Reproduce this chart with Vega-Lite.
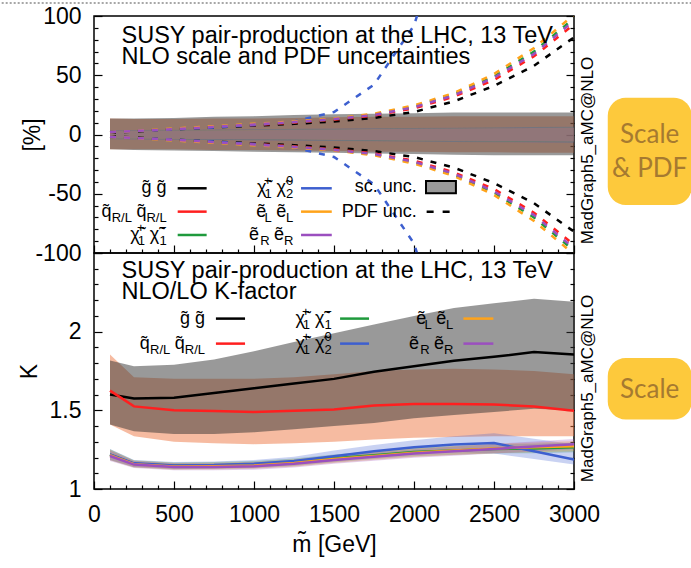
{
  "$schema": "https://vega.github.io/schema/vega-lite/v6.json",
  "background": "white",
  "padding": {"left": 0, "top": 1, "right": 0, "bottom": 4},
  "config": {
    "font": "Liberation Sans",
    "view": {"stroke": "#000000", "strokeWidth": 1.5},
    "axis": {
      "grid": false, "domain": false,
      "tickColor": "#000000", "tickWidth": 1.2,
      "labelFont": "Liberation Sans", "labelFontSize": 23, "labelColor": "#000000",
      "labelFlush": false, "labelOverlap": false,
      "titleFont": "Liberation Sans", "titleFontSize": 23, "titleFontWeight": "normal", "titleColor": "#000000"
    },
    "text": {"font": "Liberation Sans", "color": "#000000"}
  },
  "datasets": {
    "pct": [
      {"m":100,"proc":"gg","sc_lo":-12.5,"sc_hi":13.5,"pdf_lo":-1.5,"pdf_hi":1.5},
      {"m":250,"proc":"gg","sc_lo":-13,"sc_hi":13.5,"pdf_lo":-2.5,"pdf_hi":2.5},
      {"m":500,"proc":"gg","sc_lo":-13.5,"sc_hi":14,"pdf_lo":-4.5,"pdf_hi":4.5},
      {"m":750,"proc":"gg","sc_lo":-14,"sc_hi":15,"pdf_lo":-6,"pdf_hi":6},
      {"m":1000,"proc":"gg","sc_lo":-14.5,"sc_hi":15.5,"pdf_lo":-7.5,"pdf_hi":7.5},
      {"m":1250,"proc":"gg","sc_lo":-15,"sc_hi":16.5,"pdf_lo":-9,"pdf_hi":9},
      {"m":1500,"proc":"gg","sc_lo":-15.5,"sc_hi":17,"pdf_lo":-11,"pdf_hi":11},
      {"m":1750,"proc":"gg","sc_lo":-16,"sc_hi":17.5,"pdf_lo":-14,"pdf_hi":14},
      {"m":2000,"proc":"gg","sc_lo":-16.5,"sc_hi":18,"pdf_lo":-19,"pdf_hi":19},
      {"m":2250,"proc":"gg","sc_lo":-17,"sc_hi":18.5,"pdf_lo":-28,"pdf_hi":28},
      {"m":2500,"proc":"gg","sc_lo":-17.5,"sc_hi":18.5,"pdf_lo":-41,"pdf_hi":41},
      {"m":2750,"proc":"gg","sc_lo":-17.5,"sc_hi":18.5,"pdf_lo":-58,"pdf_hi":58},
      {"m":3000,"proc":"gg","sc_lo":-17.5,"sc_hi":18.5,"pdf_lo":-82,"pdf_hi":82},
      {"m":100,"proc":"qq","sc_lo":-12.5,"sc_hi":13.5,"pdf_lo":-2,"pdf_hi":2},
      {"m":250,"proc":"qq","sc_lo":-12.5,"sc_hi":13,"pdf_lo":-3,"pdf_hi":3},
      {"m":500,"proc":"qq","sc_lo":-12.5,"sc_hi":13,"pdf_lo":-4.5,"pdf_hi":4.5},
      {"m":750,"proc":"qq","sc_lo":-13,"sc_hi":13.5,"pdf_lo":-6.5,"pdf_hi":6.5},
      {"m":1000,"proc":"qq","sc_lo":-13,"sc_hi":13.5,"pdf_lo":-8,"pdf_hi":8},
      {"m":1250,"proc":"qq","sc_lo":-13.5,"sc_hi":14,"pdf_lo":-10,"pdf_hi":10},
      {"m":1500,"proc":"qq","sc_lo":-14,"sc_hi":14.5,"pdf_lo":-12.5,"pdf_hi":12.5},
      {"m":1750,"proc":"qq","sc_lo":-14.5,"sc_hi":15,"pdf_lo":-16,"pdf_hi":16},
      {"m":2000,"proc":"qq","sc_lo":-14.5,"sc_hi":15,"pdf_lo":-22,"pdf_hi":22},
      {"m":2250,"proc":"qq","sc_lo":-15,"sc_hi":15.5,"pdf_lo":-32,"pdf_hi":32},
      {"m":2500,"proc":"qq","sc_lo":-15,"sc_hi":15.5,"pdf_lo":-46,"pdf_hi":46},
      {"m":2750,"proc":"qq","sc_lo":-15.5,"sc_hi":15.5,"pdf_lo":-66,"pdf_hi":66},
      {"m":3000,"proc":"qq","sc_lo":-15.5,"sc_hi":15.5,"pdf_lo":-93,"pdf_hi":93},
      {"m":100,"proc":"c1c1","sc_lo":-3.5,"sc_hi":3,"pdf_lo":-2,"pdf_hi":2},
      {"m":250,"proc":"c1c1","sc_lo":-3.7,"sc_hi":3.2,"pdf_lo":-3,"pdf_hi":3},
      {"m":500,"proc":"c1c1","sc_lo":-4,"sc_hi":3.5,"pdf_lo":-4.5,"pdf_hi":4.5},
      {"m":750,"proc":"c1c1","sc_lo":-4.3,"sc_hi":3.8,"pdf_lo":-6.5,"pdf_hi":6.5},
      {"m":1000,"proc":"c1c1","sc_lo":-4.5,"sc_hi":4,"pdf_lo":-8.5,"pdf_hi":8.5},
      {"m":1250,"proc":"c1c1","sc_lo":-4.8,"sc_hi":4.3,"pdf_lo":-10.5,"pdf_hi":10.5},
      {"m":1500,"proc":"c1c1","sc_lo":-5.1,"sc_hi":4.6,"pdf_lo":-13,"pdf_hi":13},
      {"m":1750,"proc":"c1c1","sc_lo":-5.4,"sc_hi":4.9,"pdf_lo":-17,"pdf_hi":17},
      {"m":2000,"proc":"c1c1","sc_lo":-5.7,"sc_hi":5.2,"pdf_lo":-23.5,"pdf_hi":23.5},
      {"m":2250,"proc":"c1c1","sc_lo":-6,"sc_hi":5.5,"pdf_lo":-34,"pdf_hi":34},
      {"m":2500,"proc":"c1c1","sc_lo":-6.2,"sc_hi":5.7,"pdf_lo":-49,"pdf_hi":49},
      {"m":2750,"proc":"c1c1","sc_lo":-6.4,"sc_hi":5.9,"pdf_lo":-70,"pdf_hi":70},
      {"m":3000,"proc":"c1c1","sc_lo":-6.5,"sc_hi":6,"pdf_lo":-98,"pdf_hi":98},
      {"m":100,"proc":"c1n2","sc_lo":-4,"sc_hi":3.5,"pdf_lo":-2,"pdf_hi":2},
      {"m":250,"proc":"c1n2","sc_lo":-4.2,"sc_hi":3.7,"pdf_lo":-3,"pdf_hi":3},
      {"m":500,"proc":"c1n2","sc_lo":-4.5,"sc_hi":4,"pdf_lo":-4.5,"pdf_hi":4.5},
      {"m":750,"proc":"c1n2","sc_lo":-4.7,"sc_hi":4.2,"pdf_lo":-6,"pdf_hi":6},
      {"m":1000,"proc":"c1n2","sc_lo":-5,"sc_hi":4.5,"pdf_lo":-8,"pdf_hi":8},
      {"m":1250,"proc":"c1n2","sc_lo":-5.3,"sc_hi":4.8,"pdf_lo":-11,"pdf_hi":11},
      {"m":1500,"proc":"c1n2","sc_lo":-5.5,"sc_hi":5,"pdf_lo":-19,"pdf_hi":19},
      {"m":1750,"proc":"c1n2","sc_lo":-5.8,"sc_hi":5.3,"pdf_lo":-42,"pdf_hi":42},
      {"m":2000,"proc":"c1n2","sc_lo":-6,"sc_hi":5.5,"pdf_lo":-92,"pdf_hi":92},
      {"m":2250,"proc":"c1n2","sc_lo":-6.3,"sc_hi":5.8,"pdf_lo":-200,"pdf_hi":200},
      {"m":2500,"proc":"c1n2","sc_lo":-6.5,"sc_hi":6,"pdf_lo":null,"pdf_hi":null},
      {"m":2750,"proc":"c1n2","sc_lo":-6.8,"sc_hi":6.3,"pdf_lo":null,"pdf_hi":null},
      {"m":3000,"proc":"c1n2","sc_lo":-7,"sc_hi":6.5,"pdf_lo":null,"pdf_hi":null},
      {"m":100,"proc":"eLeL","sc_lo":-3.3,"sc_hi":3,"pdf_lo":-2,"pdf_hi":2},
      {"m":250,"proc":"eLeL","sc_lo":-3.5,"sc_hi":3.2,"pdf_lo":-3,"pdf_hi":3},
      {"m":500,"proc":"eLeL","sc_lo":-3.7,"sc_hi":3.4,"pdf_lo":-5,"pdf_hi":5},
      {"m":750,"proc":"eLeL","sc_lo":-3.9,"sc_hi":3.6,"pdf_lo":-7,"pdf_hi":7},
      {"m":1000,"proc":"eLeL","sc_lo":-4.1,"sc_hi":3.8,"pdf_lo":-9,"pdf_hi":9},
      {"m":1250,"proc":"eLeL","sc_lo":-4.3,"sc_hi":4,"pdf_lo":-11,"pdf_hi":11},
      {"m":1500,"proc":"eLeL","sc_lo":-4.6,"sc_hi":4.3,"pdf_lo":-13.5,"pdf_hi":13.5},
      {"m":1750,"proc":"eLeL","sc_lo":-4.9,"sc_hi":4.6,"pdf_lo":-17.5,"pdf_hi":17.5},
      {"m":2000,"proc":"eLeL","sc_lo":-5.2,"sc_hi":4.9,"pdf_lo":-24.5,"pdf_hi":24.5},
      {"m":2250,"proc":"eLeL","sc_lo":-5.4,"sc_hi":5.1,"pdf_lo":-35,"pdf_hi":35},
      {"m":2500,"proc":"eLeL","sc_lo":-5.6,"sc_hi":5.3,"pdf_lo":-51,"pdf_hi":51},
      {"m":2750,"proc":"eLeL","sc_lo":-5.8,"sc_hi":5.5,"pdf_lo":-73,"pdf_hi":73},
      {"m":3000,"proc":"eLeL","sc_lo":-6,"sc_hi":5.6,"pdf_lo":-101,"pdf_hi":101},
      {"m":100,"proc":"eReR","sc_lo":-3.2,"sc_hi":2.8,"pdf_lo":-2,"pdf_hi":2},
      {"m":250,"proc":"eReR","sc_lo":-3.4,"sc_hi":3,"pdf_lo":-3,"pdf_hi":3},
      {"m":500,"proc":"eReR","sc_lo":-3.6,"sc_hi":3.2,"pdf_lo":-4.5,"pdf_hi":4.5},
      {"m":750,"proc":"eReR","sc_lo":-3.8,"sc_hi":3.4,"pdf_lo":-6.5,"pdf_hi":6.5},
      {"m":1000,"proc":"eReR","sc_lo":-4,"sc_hi":3.6,"pdf_lo":-8.5,"pdf_hi":8.5},
      {"m":1250,"proc":"eReR","sc_lo":-4.2,"sc_hi":3.9,"pdf_lo":-10.5,"pdf_hi":10.5},
      {"m":1500,"proc":"eReR","sc_lo":-4.5,"sc_hi":4.2,"pdf_lo":-13,"pdf_hi":13},
      {"m":1750,"proc":"eReR","sc_lo":-4.8,"sc_hi":4.5,"pdf_lo":-16.5,"pdf_hi":16.5},
      {"m":2000,"proc":"eReR","sc_lo":-5.1,"sc_hi":4.8,"pdf_lo":-23,"pdf_hi":23},
      {"m":2250,"proc":"eReR","sc_lo":-5.3,"sc_hi":5,"pdf_lo":-33,"pdf_hi":33},
      {"m":2500,"proc":"eReR","sc_lo":-5.5,"sc_hi":5.2,"pdf_lo":-48,"pdf_hi":48},
      {"m":2750,"proc":"eReR","sc_lo":-5.7,"sc_hi":5.4,"pdf_lo":-68,"pdf_hi":68},
      {"m":3000,"proc":"eReR","sc_lo":-5.9,"sc_hi":5.5,"pdf_lo":-96,"pdf_hi":96}
    ],
    "kf": [
      {"m":100,"proc":"gg","k":1.6,"lo":1.41,"hi":1.816},
      {"m":250,"proc":"gg","k":1.575,"lo":1.367,"hi":1.78},
      {"m":500,"proc":"gg","k":1.58,"lo":1.35,"hi":1.79},
      {"m":750,"proc":"gg","k":1.61,"lo":1.35,"hi":1.823},
      {"m":1000,"proc":"gg","k":1.64,"lo":1.36,"hi":1.875},
      {"m":1250,"proc":"gg","k":1.67,"lo":1.38,"hi":1.935},
      {"m":1500,"proc":"gg","k":1.7,"lo":1.4,"hi":1.99},
      {"m":1750,"proc":"gg","k":1.745,"lo":1.42,"hi":2.045},
      {"m":2000,"proc":"gg","k":1.78,"lo":1.45,"hi":2.1},
      {"m":2250,"proc":"gg","k":1.815,"lo":1.47,"hi":2.15},
      {"m":2500,"proc":"gg","k":1.84,"lo":1.49,"hi":2.18},
      {"m":2750,"proc":"gg","k":1.87,"lo":1.51,"hi":2.21},
      {"m":3000,"proc":"gg","k":1.855,"lo":1.5,"hi":2.19},
      {"m":100,"proc":"qq","k":1.625,"lo":1.41,"hi":1.855},
      {"m":250,"proc":"qq","k":1.525,"lo":1.335,"hi":1.71},
      {"m":500,"proc":"qq","k":1.5,"lo":1.3,"hi":1.7},
      {"m":750,"proc":"qq","k":1.495,"lo":1.29,"hi":1.7},
      {"m":1000,"proc":"qq","k":1.49,"lo":1.285,"hi":1.7},
      {"m":1250,"proc":"qq","k":1.497,"lo":1.29,"hi":1.71},
      {"m":1500,"proc":"qq","k":1.505,"lo":1.3,"hi":1.73},
      {"m":1750,"proc":"qq","k":1.53,"lo":1.315,"hi":1.75},
      {"m":2000,"proc":"qq","k":1.54,"lo":1.325,"hi":1.76},
      {"m":2250,"proc":"qq","k":1.54,"lo":1.33,"hi":1.765},
      {"m":2500,"proc":"qq","k":1.537,"lo":1.335,"hi":1.76},
      {"m":2750,"proc":"qq","k":1.525,"lo":1.335,"hi":1.75},
      {"m":3000,"proc":"qq","k":1.498,"lo":1.335,"hi":1.73},
      {"m":100,"proc":"c1c1","k":1.218,"lo":1.185,"hi":1.252},
      {"m":250,"proc":"c1c1","k":1.16,"lo":1.138,"hi":1.182},
      {"m":500,"proc":"c1c1","k":1.147,"lo":1.125,"hi":1.168},
      {"m":750,"proc":"c1c1","k":1.15,"lo":1.128,"hi":1.172},
      {"m":1000,"proc":"c1c1","k":1.155,"lo":1.132,"hi":1.178},
      {"m":1250,"proc":"c1c1","k":1.17,"lo":1.146,"hi":1.194},
      {"m":1500,"proc":"c1c1","k":1.195,"lo":1.17,"hi":1.22},
      {"m":1750,"proc":"c1c1","k":1.215,"lo":1.19,"hi":1.24},
      {"m":2000,"proc":"c1c1","k":1.235,"lo":1.208,"hi":1.262},
      {"m":2250,"proc":"c1c1","k":1.245,"lo":1.217,"hi":1.273},
      {"m":2500,"proc":"c1c1","k":1.255,"lo":1.226,"hi":1.284},
      {"m":2750,"proc":"c1c1","k":1.258,"lo":1.228,"hi":1.288},
      {"m":3000,"proc":"c1c1","k":1.265,"lo":1.234,"hi":1.296},
      {"m":100,"proc":"c1n2","k":1.22,"lo":1.185,"hi":1.255},
      {"m":250,"proc":"c1n2","k":1.163,"lo":1.14,"hi":1.185},
      {"m":500,"proc":"c1n2","k":1.15,"lo":1.128,"hi":1.172},
      {"m":750,"proc":"c1n2","k":1.152,"lo":1.13,"hi":1.175},
      {"m":1000,"proc":"c1n2","k":1.16,"lo":1.137,"hi":1.185},
      {"m":1250,"proc":"c1n2","k":1.178,"lo":1.155,"hi":1.205},
      {"m":1500,"proc":"c1n2","k":1.208,"lo":1.178,"hi":1.245},
      {"m":1750,"proc":"c1n2","k":1.24,"lo":1.205,"hi":1.28},
      {"m":2000,"proc":"c1n2","k":1.265,"lo":1.225,"hi":1.31},
      {"m":2250,"proc":"c1n2","k":1.283,"lo":1.235,"hi":1.335},
      {"m":2500,"proc":"c1n2","k":1.292,"lo":1.225,"hi":1.355},
      {"m":2750,"proc":"c1n2","k":1.24,"lo":1.19,"hi":1.32},
      {"m":3000,"proc":"c1n2","k":1.187,"lo":1.155,"hi":1.285},
      {"m":100,"proc":"eLeL","k":1.215,"lo":1.182,"hi":1.25},
      {"m":250,"proc":"eLeL","k":1.158,"lo":1.136,"hi":1.18},
      {"m":500,"proc":"eLeL","k":1.143,"lo":1.122,"hi":1.165},
      {"m":750,"proc":"eLeL","k":1.145,"lo":1.124,"hi":1.167},
      {"m":1000,"proc":"eLeL","k":1.15,"lo":1.128,"hi":1.173},
      {"m":1250,"proc":"eLeL","k":1.165,"lo":1.142,"hi":1.189},
      {"m":1500,"proc":"eLeL","k":1.19,"lo":1.165,"hi":1.215},
      {"m":1750,"proc":"eLeL","k":1.21,"lo":1.184,"hi":1.237},
      {"m":2000,"proc":"eLeL","k":1.23,"lo":1.203,"hi":1.258},
      {"m":2250,"proc":"eLeL","k":1.245,"lo":1.216,"hi":1.274},
      {"m":2500,"proc":"eLeL","k":1.258,"lo":1.228,"hi":1.288},
      {"m":2750,"proc":"eLeL","k":1.265,"lo":1.234,"hi":1.296},
      {"m":3000,"proc":"eLeL","k":1.272,"lo":1.24,"hi":1.305},
      {"m":100,"proc":"eReR","k":1.21,"lo":1.178,"hi":1.245},
      {"m":250,"proc":"eReR","k":1.155,"lo":1.133,"hi":1.178},
      {"m":500,"proc":"eReR","k":1.14,"lo":1.119,"hi":1.162},
      {"m":750,"proc":"eReR","k":1.14,"lo":1.119,"hi":1.162},
      {"m":1000,"proc":"eReR","k":1.145,"lo":1.123,"hi":1.168},
      {"m":1250,"proc":"eReR","k":1.16,"lo":1.137,"hi":1.184},
      {"m":1500,"proc":"eReR","k":1.185,"lo":1.16,"hi":1.21},
      {"m":1750,"proc":"eReR","k":1.205,"lo":1.179,"hi":1.232},
      {"m":2000,"proc":"eReR","k":1.225,"lo":1.198,"hi":1.253},
      {"m":2250,"proc":"eReR","k":1.24,"lo":1.211,"hi":1.27},
      {"m":2500,"proc":"eReR","k":1.255,"lo":1.225,"hi":1.286},
      {"m":2750,"proc":"eReR","k":1.27,"lo":1.238,"hi":1.302},
      {"m":3000,"proc":"eReR","k":1.285,"lo":1.252,"hi":1.318}
    ]
  },
  "spacing": 0,
  "bounds": "flush",
  "vconcat": [
    {
      "width": 480,
      "height": 237,
      "data": {"name": "pct"},
      "resolve": {"axis": {"x": "independent", "y": "independent"}},
      "layer": [
        {
          "transform": [{"filter": "datum.proc === 'qq'"}],
          "mark": {"type": "area", "color": "#ee7744", "fillOpacity": 0.5, "clip": true},
          "encoding": {
            "x": {"field": "m", "type": "quantitative", "scale": {"domain": [0, 3000], "nice": false},
              "axis": {"orient": "bottom", "labels": false, "title": null,
                "values": [0,100,200,300,400,500,600,700,800,900,1000,1100,1200,1300,1400,1500,1600,1700,1800,1900,2000,2100,2200,2300,2400,2500,2600,2700,2800,2900,3000],
                "tickSize": {"condition": {"test": "datum.value % 500 === 0", "value": -8}, "value": -4}}},
            "y": {"field": "sc_lo", "type": "quantitative", "scale": {"domain": [-100, 100], "nice": false},
              "axis": {"orient": "left", "title": "[%]", "titleX": -62, "titleBaseline": "middle",
                "values": [-100,-90,-80,-70,-60,-50,-40,-30,-20,-10,0,10,20,30,40,50,60,70,80,90,100],
                "labelExpr": "datum.value % 50 === 0 ? '' + datum.value : ''",
                "labelPadding": 21,
                "tickSize": {"condition": {"test": "datum.value % 50 === 0", "value": -8}, "value": -4}}},
            "y2": {"field": "sc_hi"}
          }
        },
        {
          "transform": [{"filter": "datum.proc === 'gg'"}],
          "mark": {"type": "area", "color": "#333333", "fillOpacity": 0.5, "clip": true},
          "encoding": {
            "x": {"field": "m", "type": "quantitative", "scale": {"domain": [0, 3000], "nice": false}, "axis": null},
            "y": {"field": "sc_lo", "type": "quantitative", "scale": {"domain": [-100, 100], "nice": false},
              "axis": {"orient": "right", "labels": false, "title": "MadGraph5_aMC@NLO", "titleAngle": 270,
                "titleBaseline": "middle", "titleX": 13, "titleY": 134, "titleFontSize": 17,
                "values": [-100,-90,-80,-70,-60,-50,-40,-30,-20,-10,0,10,20,30,40,50,60,70,80,90,100],
                "tickSize": {"condition": {"test": "datum.value % 50 === 0", "value": -8}, "value": -4}}},
            "y2": {"field": "sc_hi"}
          }
        },
        {
          "transform": [{"filter": "indexof(['c1c1','c1n2','eLeL','eReR'], datum.proc) >= 0"}],
          "mark": {"type": "area", "fillOpacity": 0.25, "clip": true},
          "encoding": {
            "x": {"field": "m", "type": "quantitative", "scale": {"domain": [0, 3000], "nice": false}, "axis": null},
            "y": {"field": "sc_lo", "type": "quantitative", "scale": {"domain": [-100, 100], "nice": false}, "axis": null},
            "y2": {"field": "sc_hi"},
            "color": {"field": "proc", "type": "nominal", "legend": null,
              "scale": {"domain": ["gg","qq","c1c1","c1n2","eLeL","eReR"], "range": ["#000000","#ff1f1f","#1f9a3c","#3d5fcf","#ffa31a","#9b4fbf"]}}
          }
        },
        {
          "mark": {"type": "line", "strokeWidth": 2.5, "strokeDash": [6, 8], "clip": true},
          "encoding": {
            "x": {"field": "m", "type": "quantitative", "scale": {"domain": [0, 3000], "nice": false}, "axis": null},
            "y": {"field": "pdf_hi", "type": "quantitative", "scale": {"domain": [-100, 100], "nice": false}, "axis": null},
            "color": {"field": "proc", "type": "nominal", "legend": null,
              "scale": {"domain": ["gg","qq","c1c1","c1n2","eLeL","eReR"], "range": ["#000000","#ff1f1f","#1f9a3c","#3d5fcf","#ffa31a","#9b4fbf"]}}
          }
        },
        {
          "mark": {"type": "line", "strokeWidth": 2.5, "strokeDash": [6, 8], "clip": true},
          "encoding": {
            "x": {"field": "m", "type": "quantitative", "scale": {"domain": [0, 3000], "nice": false}, "axis": null},
            "y": {"field": "pdf_lo", "type": "quantitative", "scale": {"domain": [-100, 100], "nice": false}, "axis": null},
            "color": {"field": "proc", "type": "nominal", "legend": null,
              "scale": {"domain": ["gg","qq","c1c1","c1n2","eLeL","eReR"], "range": ["#000000","#ff1f1f","#1f9a3c","#3d5fcf","#ffa31a","#9b4fbf"]}}
          }
        },
        {
          "data": {"values": [{}]},
          "mark": {"type": "rule", "color": "#8a8a8a", "strokeWidth": 1.5, "strokeDash": [2, 2]},
          "encoding": {
            "x": {"datum": -577, "type": "quantitative", "scale": {"domain": [0, 3000], "nice": false}, "axis": null},
            "x2": {"datum": 3741},
            "y": {"datum": 111, "type": "quantitative", "scale": {"domain": [-100, 100], "nice": false}, "axis": null}
          }
        },
        {
          "data": {"values": [{}]},
          "mark": {"type": "text", "text": ["SUSY pair-production at the LHC, 13 TeV", "NLO scale and PDF uncertainties"], "align": "left", "baseline": "alphabetic", "fontSize": 23.5, "lineHeight": 21},
          "encoding": {
            "x": {"datum": 172, "type": "quantitative", "scale": {"domain": [0, 3000], "nice": false}, "axis": null},
            "y": {"datum": 77.5, "type": "quantitative", "scale": {"domain": [-100, 100], "nice": false}, "axis": null}
          }
        },
        {
          "data": {"values": [{}]},
          "mark": {"type": "rect", "color": "#fdc93c", "cornerRadius": 18},
          "encoding": {
            "x": {"datum": 3211, "type": "quantitative", "scale": {"domain": [0, 3000], "nice": false}, "axis": null},
            "x2": {"datum": 3736},
            "y": {"datum": 31.1, "type": "quantitative", "scale": {"domain": [-100, 100], "nice": false}, "axis": null},
            "y2": {"datum": -59.5}
          }
        },
        {
          "data": {"values": [{}]},
          "mark": {"type": "text", "text": ["Scale", "& PDF"], "align": "center", "baseline": "alphabetic", "font": "Lato", "fontSize": 26, "lineHeight": 34, "color": "#a67a30"},
          "encoding": {
            "x": {"datum": 3473, "type": "quantitative", "scale": {"domain": [0, 3000], "nice": false}, "axis": null},
            "y": {"datum": -6.9, "type": "quantitative", "scale": {"domain": [-100, 100], "nice": false}, "axis": null}
          }
        },
        {
          "data": {"values": [{}]},
          "mark": {"type": "text", "text": "g\u0303 g\u0303", "align": "right", "baseline": "alphabetic", "fontSize": 18, "dy": 5},
          "encoding": {
            "x": {"datum": 454, "type": "quantitative", "scale": {"domain": [0, 3000], "nice": false}, "axis": null},
            "y": {"datum": -45.4, "type": "quantitative", "scale": {"domain": [-100, 100], "nice": false}, "axis": null}
          }
        },
        {
          "data": {"values": [{}]},
          "mark": {"type": "text", "text": "q\u0303\u00a0\u00a0\u00a0\u00a0\u00a0q\u0303", "align": "right", "baseline": "alphabetic", "fontSize": 18, "dx": -20.2, "dy": 5},
          "encoding": {
            "x": {"datum": 454, "type": "quantitative", "scale": {"domain": [0, 3000], "nice": false}, "axis": null},
            "y": {"datum": -65.1, "type": "quantitative", "scale": {"domain": [-100, 100], "nice": false}, "axis": null}
          }
        },
        {
          "data": {"values": [{}]},
          "mark": {"type": "text", "text": "R/L\u00a0\u00a0\u00a0\u00a0R/L", "align": "right", "baseline": "alphabetic", "fontSize": 13, "dy": 10},
          "encoding": {
            "x": {"datum": 454, "type": "quantitative", "scale": {"domain": [0, 3000], "nice": false}, "axis": null},
            "y": {"datum": -65.1, "type": "quantitative", "scale": {"domain": [-100, 100], "nice": false}, "axis": null}
          }
        },
        {
          "data": {"values": [{}]},
          "mark": {"type": "text", "text": "\u03c7\u0303\u00a0\u00a0\u03c7\u0303", "align": "right", "baseline": "alphabetic", "fontSize": 18, "dx": -7.4, "dy": 5},
          "encoding": {
            "x": {"datum": 454, "type": "quantitative", "scale": {"domain": [0, 3000], "nice": false}, "axis": null},
            "y": {"datum": -84.8, "type": "quantitative", "scale": {"domain": [-100, 100], "nice": false}, "axis": null}
          }
        },
        {
          "data": {"values": [{}]},
          "mark": {"type": "text", "text": "+\u00a0\u00a0\u00a0\u00a0\u2212", "align": "right", "baseline": "alphabetic", "fontSize": 13, "dy": -3},
          "encoding": {
            "x": {"datum": 454, "type": "quantitative", "scale": {"domain": [0, 3000], "nice": false}, "axis": null},
            "y": {"datum": -84.8, "type": "quantitative", "scale": {"domain": [-100, 100], "nice": false}, "axis": null}
          }
        },
        {
          "data": {"values": [{}]},
          "mark": {"type": "text", "text": "1\u00a0\u00a0\u00a0\u00a01", "align": "right", "baseline": "alphabetic", "fontSize": 13, "dy": 10},
          "encoding": {
            "x": {"datum": 454, "type": "quantitative", "scale": {"domain": [0, 3000], "nice": false}, "axis": null},
            "y": {"datum": -84.8, "type": "quantitative", "scale": {"domain": [-100, 100], "nice": false}, "axis": null}
          }
        },
        {
          "data": {"values": [{}]},
          "mark": {"type": "text", "text": "\u03c7\u0303\u00a0\u00a0\u03c7\u0303", "align": "right", "baseline": "alphabetic", "fontSize": 18, "dx": -7.4, "dy": 5},
          "encoding": {
            "x": {"datum": 1246, "type": "quantitative", "scale": {"domain": [0, 3000], "nice": false}, "axis": null},
            "y": {"datum": -45.4, "type": "quantitative", "scale": {"domain": [-100, 100], "nice": false}, "axis": null}
          }
        },
        {
          "data": {"values": [{}]},
          "mark": {"type": "text", "text": "+\u00a0\u00a0\u00a0\u00a00", "align": "right", "baseline": "alphabetic", "fontSize": 13, "dy": -3},
          "encoding": {
            "x": {"datum": 1246, "type": "quantitative", "scale": {"domain": [0, 3000], "nice": false}, "axis": null},
            "y": {"datum": -45.4, "type": "quantitative", "scale": {"domain": [-100, 100], "nice": false}, "axis": null}
          }
        },
        {
          "data": {"values": [{}]},
          "mark": {"type": "text", "text": "1\u00a0\u00a0\u00a0\u00a02", "align": "right", "baseline": "alphabetic", "fontSize": 13, "dy": 10},
          "encoding": {
            "x": {"datum": 1246, "type": "quantitative", "scale": {"domain": [0, 3000], "nice": false}, "axis": null},
            "y": {"datum": -45.4, "type": "quantitative", "scale": {"domain": [-100, 100], "nice": false}, "axis": null}
          }
        },
        {
          "data": {"values": [{}]},
          "mark": {"type": "text", "text": "\u1ebd\u00a0\u00a0\u1ebd", "align": "right", "baseline": "alphabetic", "fontSize": 18, "dx": -7.2, "dy": 5},
          "encoding": {
            "x": {"datum": 1246, "type": "quantitative", "scale": {"domain": [0, 3000], "nice": false}, "axis": null},
            "y": {"datum": -65.1, "type": "quantitative", "scale": {"domain": [-100, 100], "nice": false}, "axis": null}
          }
        },
        {
          "data": {"values": [{}]},
          "mark": {"type": "text", "text": "L\u00a0\u00a0\u00a0\u00a0L", "align": "right", "baseline": "alphabetic", "fontSize": 13, "dy": 10},
          "encoding": {
            "x": {"datum": 1246, "type": "quantitative", "scale": {"domain": [0, 3000], "nice": false}, "axis": null},
            "y": {"datum": -65.1, "type": "quantitative", "scale": {"domain": [-100, 100], "nice": false}, "axis": null}
          }
        },
        {
          "data": {"values": [{}]},
          "mark": {"type": "text", "text": "\u1ebd\u00a0\u00a0\u00a0\u1ebd", "align": "right", "baseline": "alphabetic", "fontSize": 18, "dx": -9.4, "dy": 5},
          "encoding": {
            "x": {"datum": 1246, "type": "quantitative", "scale": {"domain": [0, 3000], "nice": false}, "axis": null},
            "y": {"datum": -84.8, "type": "quantitative", "scale": {"domain": [-100, 100], "nice": false}, "axis": null}
          }
        },
        {
          "data": {"values": [{}]},
          "mark": {"type": "text", "text": "R\u00a0\u00a0\u00a0\u00a0R", "align": "right", "baseline": "alphabetic", "fontSize": 13, "dy": 10},
          "encoding": {
            "x": {"datum": 1246, "type": "quantitative", "scale": {"domain": [0, 3000], "nice": false}, "axis": null},
            "y": {"datum": -84.8, "type": "quantitative", "scale": {"domain": [-100, 100], "nice": false}, "axis": null}
          }
        },
        {
          "data": {"values": [{}]},
          "mark": {"type": "rule", "color": "#000000", "strokeWidth": 2.5},
          "encoding": {
            "x": {"datum": 523, "type": "quantitative", "scale": {"domain": [0, 3000], "nice": false}, "axis": null},
            "x2": {"datum": 704},
            "y": {"datum": -45.4, "type": "quantitative", "scale": {"domain": [-100, 100], "nice": false}, "axis": null}
          }
        },
        {
          "data": {"values": [{}]},
          "mark": {"type": "rule", "color": "#ff1f1f", "strokeWidth": 2.5},
          "encoding": {
            "x": {"datum": 523, "type": "quantitative", "scale": {"domain": [0, 3000], "nice": false}, "axis": null},
            "x2": {"datum": 704},
            "y": {"datum": -65.1, "type": "quantitative", "scale": {"domain": [-100, 100], "nice": false}, "axis": null}
          }
        },
        {
          "data": {"values": [{}]},
          "mark": {"type": "rule", "color": "#1f9a3c", "strokeWidth": 2.5},
          "encoding": {
            "x": {"datum": 523, "type": "quantitative", "scale": {"domain": [0, 3000], "nice": false}, "axis": null},
            "x2": {"datum": 704},
            "y": {"datum": -84.8, "type": "quantitative", "scale": {"domain": [-100, 100], "nice": false}, "axis": null}
          }
        },
        {
          "data": {"values": [{}]},
          "mark": {"type": "rule", "color": "#3d5fcf", "strokeWidth": 2.5},
          "encoding": {
            "x": {"datum": 1294, "type": "quantitative", "scale": {"domain": [0, 3000], "nice": false}, "axis": null},
            "x2": {"datum": 1486},
            "y": {"datum": -45.4, "type": "quantitative", "scale": {"domain": [-100, 100], "nice": false}, "axis": null}
          }
        },
        {
          "data": {"values": [{}]},
          "mark": {"type": "rule", "color": "#ffa31a", "strokeWidth": 2.5},
          "encoding": {
            "x": {"datum": 1294, "type": "quantitative", "scale": {"domain": [0, 3000], "nice": false}, "axis": null},
            "x2": {"datum": 1486},
            "y": {"datum": -65.1, "type": "quantitative", "scale": {"domain": [-100, 100], "nice": false}, "axis": null}
          }
        },
        {
          "data": {"values": [{}]},
          "mark": {"type": "rule", "color": "#9b4fbf", "strokeWidth": 2.5},
          "encoding": {
            "x": {"datum": 1294, "type": "quantitative", "scale": {"domain": [0, 3000], "nice": false}, "axis": null},
            "x2": {"datum": 1486},
            "y": {"datum": -84.8, "type": "quantitative", "scale": {"domain": [-100, 100], "nice": false}, "axis": null}
          }
        },
        {
          "data": {"values": [{}]},
          "mark": {"type": "text", "text": "sc. unc.", "align": "right", "baseline": "alphabetic", "fontSize": 18, "dy": 5},
          "encoding": {
            "x": {"datum": 2017, "type": "quantitative", "scale": {"domain": [0, 3000], "nice": false}, "axis": null},
            "y": {"datum": -44.4, "type": "quantitative", "scale": {"domain": [-100, 100], "nice": false}, "axis": null}
          }
        },
        {
          "data": {"values": [{}]},
          "mark": {"type": "rect", "fill": "#999999", "stroke": "#000000", "strokeWidth": 2},
          "encoding": {
            "x": {"datum": 2075, "type": "quantitative", "scale": {"domain": [0, 3000], "nice": false}, "axis": null},
            "x2": {"datum": 2262},
            "y": {"datum": -39.2, "type": "quantitative", "scale": {"domain": [-100, 100], "nice": false}, "axis": null},
            "y2": {"datum": -49.6}
          }
        },
        {
          "data": {"values": [{}]},
          "mark": {"type": "text", "text": "PDF unc.", "align": "right", "baseline": "alphabetic", "fontSize": 18, "dy": 5},
          "encoding": {
            "x": {"datum": 2017, "type": "quantitative", "scale": {"domain": [0, 3000], "nice": false}, "axis": null},
            "y": {"datum": -65.1, "type": "quantitative", "scale": {"domain": [-100, 100], "nice": false}, "axis": null}
          }
        },
        {
          "data": {"values": [{}]},
          "mark": {"type": "rule", "color": "#000000", "strokeWidth": 2.5, "strokeDash": [7, 9]},
          "encoding": {
            "x": {"datum": 2079, "type": "quantitative", "scale": {"domain": [0, 3000], "nice": false}, "axis": null},
            "x2": {"datum": 2223},
            "y": {"datum": -65.1, "type": "quantitative", "scale": {"domain": [-100, 100], "nice": false}, "axis": null}
          }
        }
      ]
    },
    {
      "width": 480,
      "height": 236,
      "data": {"name": "kf"},
      "resolve": {"axis": {"x": "independent", "y": "independent"}},
      "layer": [
        {
          "transform": [{"filter": "datum.proc === 'qq'"}],
          "mark": {"type": "area", "color": "#ee7744", "fillOpacity": 0.5, "clip": true},
          "encoding": {
            "x": {"field": "m", "type": "quantitative", "scale": {"domain": [0, 3000], "nice": false},
              "axis": {"orient": "bottom", "title": "m\u0303 [GeV]", "titleBaseline": "alphabetic", "titleY": 62,
                "values": [0,100,200,300,400,500,600,700,800,900,1000,1100,1200,1300,1400,1500,1600,1700,1800,1900,2000,2100,2200,2300,2400,2500,2600,2700,2800,2900,3000],
                "labelExpr": "datum.value % 500 === 0 ? '' + datum.value : ''",
                "labelPadding": 22,
                "tickSize": {"condition": {"test": "datum.value % 500 === 0", "value": -8}, "value": -4}}},
            "y": {"field": "lo", "type": "quantitative", "scale": {"domain": [1, 2.5], "nice": false},
              "axis": {"orient": "left", "title": "K", "titleX": -65, "titleBaseline": "middle",
                "values": [1,1.1,1.2,1.3,1.4,1.5,1.6,1.7,1.8,1.9,2,2.1,2.2,2.3,2.4,2.5],
                "labelExpr": "(datum.value === 1 || datum.value === 1.5 || datum.value === 2) ? '' + datum.value : ''",
                "labelPadding": 21,
                "tickSize": {"condition": {"test": "datum.value === 1 || datum.value === 1.5 || datum.value === 2 || datum.value === 2.5", "value": -8}, "value": -4}}},
            "y2": {"field": "hi"}
          }
        },
        {
          "transform": [{"filter": "datum.proc === 'gg'"}],
          "mark": {"type": "area", "color": "#333333", "fillOpacity": 0.5, "clip": true},
          "encoding": {
            "x": {"field": "m", "type": "quantitative", "scale": {"domain": [0, 3000], "nice": false}, "axis": null},
            "y": {"field": "lo", "type": "quantitative", "scale": {"domain": [1, 2.5], "nice": false},
              "axis": {"orient": "right", "labels": false, "title": "MadGraph5_aMC@NLO", "titleAngle": 270,
                "titleBaseline": "middle", "titleX": 13, "titleY": 135, "titleFontSize": 17,
                "values": [1,1.1,1.2,1.3,1.4,1.5,1.6,1.7,1.8,1.9,2,2.1,2.2,2.3,2.4,2.5],
                "tickSize": {"condition": {"test": "datum.value === 1 || datum.value === 1.5 || datum.value === 2 || datum.value === 2.5", "value": -8}, "value": -4}}},
            "y2": {"field": "hi"}
          }
        },
        {
          "transform": [{"filter": "indexof(['c1c1','c1n2','eLeL','eReR'], datum.proc) >= 0"}],
          "mark": {"type": "area", "fillOpacity": 0.28, "clip": true},
          "encoding": {
            "x": {"field": "m", "type": "quantitative", "scale": {"domain": [0, 3000], "nice": false}, "axis": null},
            "y": {"field": "lo", "type": "quantitative", "scale": {"domain": [1, 2.5], "nice": false}, "axis": null},
            "y2": {"field": "hi"},
            "color": {"field": "proc", "type": "nominal", "legend": null,
              "scale": {"domain": ["gg","qq","c1c1","c1n2","eLeL","eReR"], "range": ["#000000","#ff1f1f","#1f9a3c","#3d5fcf","#ffa31a","#9b4fbf"]}}
          }
        },
        {
          "mark": {"type": "line", "strokeWidth": 2.5, "clip": true},
          "encoding": {
            "x": {"field": "m", "type": "quantitative", "scale": {"domain": [0, 3000], "nice": false}, "axis": null},
            "y": {"field": "k", "type": "quantitative", "scale": {"domain": [1, 2.5], "nice": false}, "axis": null},
            "color": {"field": "proc", "type": "nominal", "legend": null,
              "scale": {"domain": ["gg","qq","c1c1","c1n2","eLeL","eReR"], "range": ["#000000","#ff1f1f","#1f9a3c","#3d5fcf","#ffa31a","#9b4fbf"]}}
          }
        },
        {
          "data": {"values": [{}]},
          "mark": {"type": "text", "text": ["SUSY pair-production at the LHC, 13 TeV", "NLO/LO K-factor"], "align": "left", "baseline": "alphabetic", "fontSize": 23.5, "lineHeight": 21},
          "encoding": {
            "x": {"datum": 172, "type": "quantitative", "scale": {"domain": [0, 3000], "nice": false}, "axis": null},
            "y": {"datum": 2.339, "type": "quantitative", "scale": {"domain": [1, 2.5], "nice": false}, "axis": null}
          }
        },
        {
          "data": {"values": [{}]},
          "mark": {"type": "rect", "color": "#fdc93c", "cornerRadius": 18},
          "encoding": {
            "x": {"datum": 3211, "type": "quantitative", "scale": {"domain": [0, 3000], "nice": false}, "axis": null},
            "x2": {"datum": 3736},
            "y": {"datum": 1.833, "type": "quantitative", "scale": {"domain": [1, 2.5], "nice": false}, "axis": null},
            "y2": {"datum": 1.441}
          }
        },
        {
          "data": {"values": [{}]},
          "mark": {"type": "text", "text": "Scale", "align": "center", "baseline": "alphabetic", "font": "Lato", "fontSize": 26, "color": "#a67a30"},
          "encoding": {
            "x": {"datum": 3473, "type": "quantitative", "scale": {"domain": [0, 3000], "nice": false}, "axis": null},
            "y": {"datum": 1.578, "type": "quantitative", "scale": {"domain": [1, 2.5], "nice": false}, "axis": null}
          }
        },
        {
          "data": {"values": [{}]},
          "mark": {"type": "text", "text": "g\u0303 g\u0303", "align": "right", "baseline": "alphabetic", "fontSize": 18, "dy": 5},
          "encoding": {
            "x": {"datum": 694, "type": "quantitative", "scale": {"domain": [0, 3000], "nice": false}, "axis": null},
            "y": {"datum": 2.083, "type": "quantitative", "scale": {"domain": [1, 2.5], "nice": false}, "axis": null}
          }
        },
        {
          "data": {"values": [{}]},
          "mark": {"type": "text", "text": "q\u0303\u00a0\u00a0\u00a0\u00a0\u00a0q\u0303", "align": "right", "baseline": "alphabetic", "fontSize": 18, "dx": -20.2, "dy": 5},
          "encoding": {
            "x": {"datum": 694, "type": "quantitative", "scale": {"domain": [0, 3000], "nice": false}, "axis": null},
            "y": {"datum": 1.924, "type": "quantitative", "scale": {"domain": [1, 2.5], "nice": false}, "axis": null}
          }
        },
        {
          "data": {"values": [{}]},
          "mark": {"type": "text", "text": "R/L\u00a0\u00a0\u00a0\u00a0R/L", "align": "right", "baseline": "alphabetic", "fontSize": 13, "dy": 10},
          "encoding": {
            "x": {"datum": 694, "type": "quantitative", "scale": {"domain": [0, 3000], "nice": false}, "axis": null},
            "y": {"datum": 1.924, "type": "quantitative", "scale": {"domain": [1, 2.5], "nice": false}, "axis": null}
          }
        },
        {
          "data": {"values": [{}]},
          "mark": {"type": "text", "text": "\u03c7\u0303\u00a0\u00a0\u03c7\u0303", "align": "right", "baseline": "alphabetic", "fontSize": 18, "dx": -7.4, "dy": 5},
          "encoding": {
            "x": {"datum": 1486, "type": "quantitative", "scale": {"domain": [0, 3000], "nice": false}, "axis": null},
            "y": {"datum": 2.083, "type": "quantitative", "scale": {"domain": [1, 2.5], "nice": false}, "axis": null}
          }
        },
        {
          "data": {"values": [{}]},
          "mark": {"type": "text", "text": "+\u00a0\u00a0\u00a0\u00a0\u2212", "align": "right", "baseline": "alphabetic", "fontSize": 13, "dy": -3},
          "encoding": {
            "x": {"datum": 1486, "type": "quantitative", "scale": {"domain": [0, 3000], "nice": false}, "axis": null},
            "y": {"datum": 2.083, "type": "quantitative", "scale": {"domain": [1, 2.5], "nice": false}, "axis": null}
          }
        },
        {
          "data": {"values": [{}]},
          "mark": {"type": "text", "text": "1\u00a0\u00a0\u00a0\u00a01", "align": "right", "baseline": "alphabetic", "fontSize": 13, "dy": 10},
          "encoding": {
            "x": {"datum": 1486, "type": "quantitative", "scale": {"domain": [0, 3000], "nice": false}, "axis": null},
            "y": {"datum": 2.083, "type": "quantitative", "scale": {"domain": [1, 2.5], "nice": false}, "axis": null}
          }
        },
        {
          "data": {"values": [{}]},
          "mark": {"type": "text", "text": "\u03c7\u0303\u00a0\u00a0\u03c7\u0303", "align": "right", "baseline": "alphabetic", "fontSize": 18, "dx": -7.4, "dy": 5},
          "encoding": {
            "x": {"datum": 1486, "type": "quantitative", "scale": {"domain": [0, 3000], "nice": false}, "axis": null},
            "y": {"datum": 1.924, "type": "quantitative", "scale": {"domain": [1, 2.5], "nice": false}, "axis": null}
          }
        },
        {
          "data": {"values": [{}]},
          "mark": {"type": "text", "text": "+\u00a0\u00a0\u00a0\u00a00", "align": "right", "baseline": "alphabetic", "fontSize": 13, "dy": -3},
          "encoding": {
            "x": {"datum": 1486, "type": "quantitative", "scale": {"domain": [0, 3000], "nice": false}, "axis": null},
            "y": {"datum": 1.924, "type": "quantitative", "scale": {"domain": [1, 2.5], "nice": false}, "axis": null}
          }
        },
        {
          "data": {"values": [{}]},
          "mark": {"type": "text", "text": "1\u00a0\u00a0\u00a0\u00a02", "align": "right", "baseline": "alphabetic", "fontSize": 13, "dy": 10},
          "encoding": {
            "x": {"datum": 1486, "type": "quantitative", "scale": {"domain": [0, 3000], "nice": false}, "axis": null},
            "y": {"datum": 1.924, "type": "quantitative", "scale": {"domain": [1, 2.5], "nice": false}, "axis": null}
          }
        },
        {
          "data": {"values": [{}]},
          "mark": {"type": "text", "text": "\u1ebd\u00a0\u00a0\u1ebd", "align": "right", "baseline": "alphabetic", "fontSize": 18, "dx": -7.2, "dy": 5},
          "encoding": {
            "x": {"datum": 2246, "type": "quantitative", "scale": {"domain": [0, 3000], "nice": false}, "axis": null},
            "y": {"datum": 2.083, "type": "quantitative", "scale": {"domain": [1, 2.5], "nice": false}, "axis": null}
          }
        },
        {
          "data": {"values": [{}]},
          "mark": {"type": "text", "text": "L\u00a0\u00a0\u00a0\u00a0L", "align": "right", "baseline": "alphabetic", "fontSize": 13, "dy": 10},
          "encoding": {
            "x": {"datum": 2246, "type": "quantitative", "scale": {"domain": [0, 3000], "nice": false}, "axis": null},
            "y": {"datum": 2.083, "type": "quantitative", "scale": {"domain": [1, 2.5], "nice": false}, "axis": null}
          }
        },
        {
          "data": {"values": [{}]},
          "mark": {"type": "text", "text": "\u1ebd\u00a0\u00a0\u00a0\u1ebd", "align": "right", "baseline": "alphabetic", "fontSize": 18, "dx": -9.4, "dy": 5},
          "encoding": {
            "x": {"datum": 2246, "type": "quantitative", "scale": {"domain": [0, 3000], "nice": false}, "axis": null},
            "y": {"datum": 1.924, "type": "quantitative", "scale": {"domain": [1, 2.5], "nice": false}, "axis": null}
          }
        },
        {
          "data": {"values": [{}]},
          "mark": {"type": "text", "text": "R\u00a0\u00a0\u00a0\u00a0R", "align": "right", "baseline": "alphabetic", "fontSize": 13, "dy": 10},
          "encoding": {
            "x": {"datum": 2246, "type": "quantitative", "scale": {"domain": [0, 3000], "nice": false}, "axis": null},
            "y": {"datum": 1.924, "type": "quantitative", "scale": {"domain": [1, 2.5], "nice": false}, "axis": null}
          }
        },
        {
          "data": {"values": [{}]},
          "mark": {"type": "rule", "color": "#000000", "strokeWidth": 2.5},
          "encoding": {
            "x": {"datum": 762, "type": "quantitative", "scale": {"domain": [0, 3000], "nice": false}, "axis": null},
            "x2": {"datum": 944},
            "y": {"datum": 2.083, "type": "quantitative", "scale": {"domain": [1, 2.5], "nice": false}, "axis": null}
          }
        },
        {
          "data": {"values": [{}]},
          "mark": {"type": "rule", "color": "#ff1f1f", "strokeWidth": 2.5},
          "encoding": {
            "x": {"datum": 762, "type": "quantitative", "scale": {"domain": [0, 3000], "nice": false}, "axis": null},
            "x2": {"datum": 944},
            "y": {"datum": 1.924, "type": "quantitative", "scale": {"domain": [1, 2.5], "nice": false}, "axis": null}
          }
        },
        {
          "data": {"values": [{}]},
          "mark": {"type": "rule", "color": "#1f9a3c", "strokeWidth": 2.5},
          "encoding": {
            "x": {"datum": 1538, "type": "quantitative", "scale": {"domain": [0, 3000], "nice": false}, "axis": null},
            "x2": {"datum": 1719},
            "y": {"datum": 2.083, "type": "quantitative", "scale": {"domain": [1, 2.5], "nice": false}, "axis": null}
          }
        },
        {
          "data": {"values": [{}]},
          "mark": {"type": "rule", "color": "#3d5fcf", "strokeWidth": 2.5},
          "encoding": {
            "x": {"datum": 1538, "type": "quantitative", "scale": {"domain": [0, 3000], "nice": false}, "axis": null},
            "x2": {"datum": 1719},
            "y": {"datum": 1.924, "type": "quantitative", "scale": {"domain": [1, 2.5], "nice": false}, "axis": null}
          }
        },
        {
          "data": {"values": [{}]},
          "mark": {"type": "rule", "color": "#ffa31a", "strokeWidth": 2.5},
          "encoding": {
            "x": {"datum": 2309, "type": "quantitative", "scale": {"domain": [0, 3000], "nice": false}, "axis": null},
            "x2": {"datum": 2496},
            "y": {"datum": 2.083, "type": "quantitative", "scale": {"domain": [1, 2.5], "nice": false}, "axis": null}
          }
        },
        {
          "data": {"values": [{}]},
          "mark": {"type": "rule", "color": "#9b4fbf", "strokeWidth": 2.5},
          "encoding": {
            "x": {"datum": 2309, "type": "quantitative", "scale": {"domain": [0, 3000], "nice": false}, "axis": null},
            "x2": {"datum": 2496},
            "y": {"datum": 1.924, "type": "quantitative", "scale": {"domain": [1, 2.5], "nice": false}, "axis": null}
          }
        }
      ]
    }
  ]
}
